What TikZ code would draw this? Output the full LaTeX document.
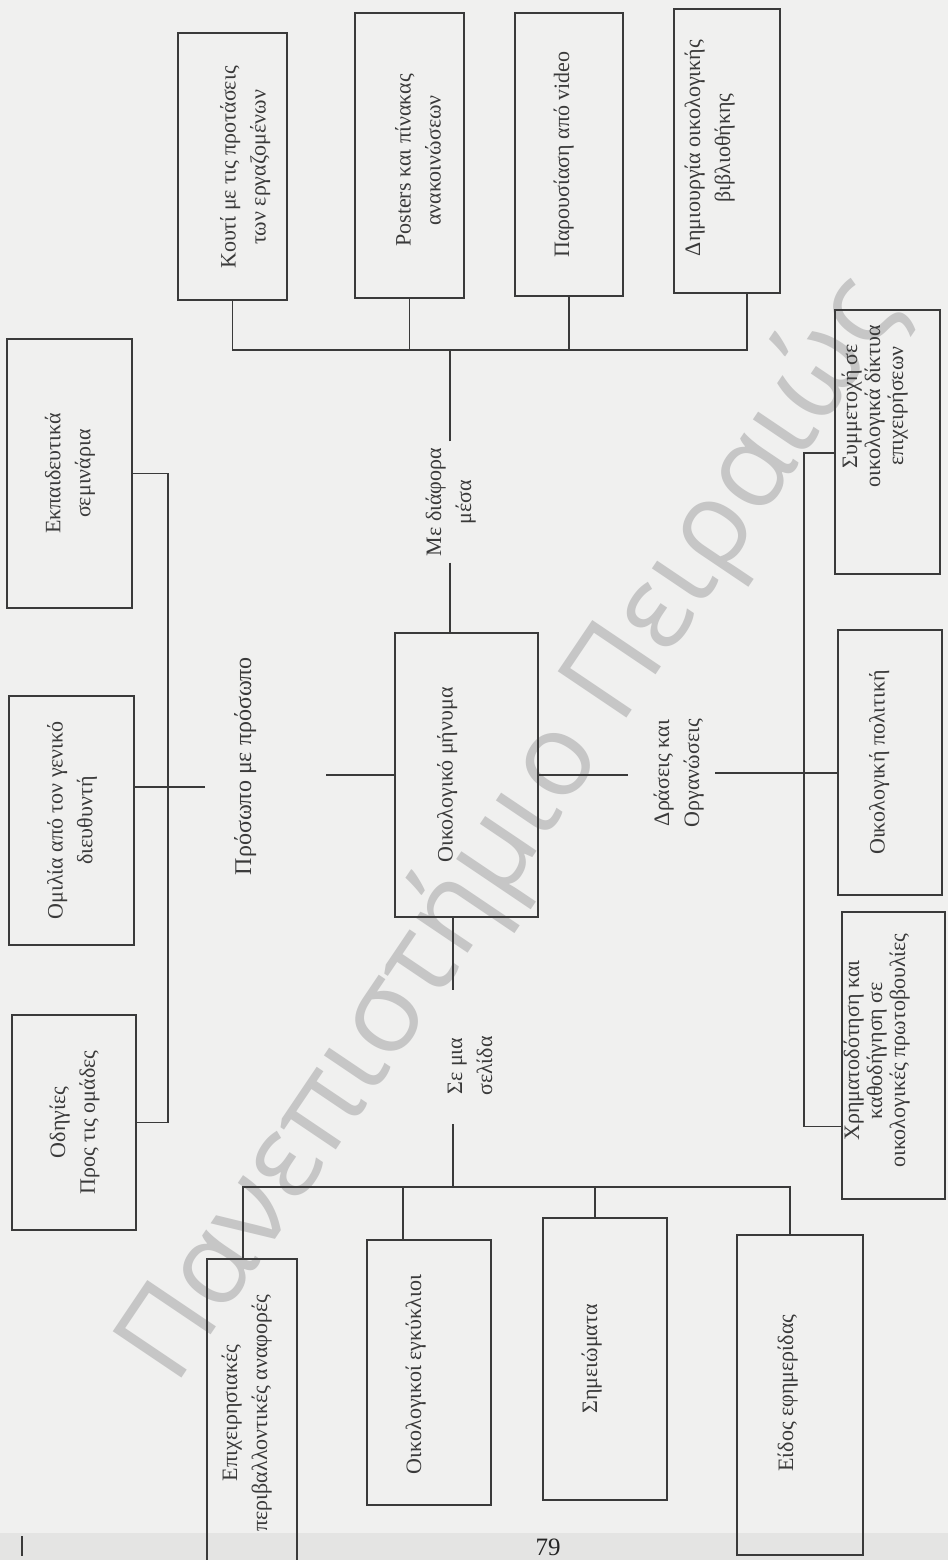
\documentclass[tikz,border=0pt]{standalone}
\usepackage{fontspec}
\setmainfont{Liberation Serif}
\newfontfamily\wmfont{Open Sans}
\usetikzlibrary{fit,calc}
\definecolor{paper}{HTML}{F0F0EF}
\definecolor{ink}{HTML}{3A3A3A}
\definecolor{wmgray}{HTML}{C6C6C6}
\definecolor{band}{HTML}{E4E4E3}
% vertical multi-line text, reading bottom to top
\newcommand{\vlines}[1]{\rotatebox{90}{\begin{tabular}{@{}c@{}}#1\end{tabular}}}
\begin{document}
\begin{tikzpicture}[x=0.5pt,y=-0.5pt,
  box/.style={draw=ink,line width=0.9pt,inner sep=0pt},
  btxt/.style={text=ink,inner sep=0pt,font=\fontsize{11}{15}\selectfont},
  ntxt/.style={text=ink,inner sep=0pt,font=\fontsize{11}{11.5}\selectfont},
  lbl/.style={text=ink,inner sep=3pt,font=\fontsize{11}{15}\selectfont},
  conn/.style={draw=ink,line width=0.8pt},
  wmk/.style={text=wmgray,inner sep=0pt,rotate=56,font=\wmfont\fontsize{58}{58}\selectfont}]

% page
\fill[paper] (0,0) rectangle (948,1560);
\useasboundingbox (0,0) rectangle (948,1560);
\fill[band] (0,1533) rectangle (948,1560);
\draw[ink,line width=0.8pt] (22,1536) -- (22,1556);

% watermark
\node[wmk] (wm) at (512,830) {Πανεπιστήμιο Πειραιώς};

% central node
\node[box,fit={(395,633)(538,917)}] (msg) {};
\node[btxt] (msg-t) at ($(msg.center)+(-20,0)$) {\vlines{Οικολογικό μήνυμα}};

% branch labels
\node[lbl] (lblT) at (450,502) {\vlines{Με διάφορα\\μέσα}};
\node[lbl,font=\fontsize{12}{15}\selectfont] (lblL) at (245,766) {\vlines{Πρόσωπο με πρόσωπο}};
\node[lbl] (lblR) at (678,773) {\vlines{Δράσεις και\\Οργανώσεις}};
\node[lbl] (lblB) at (471,1066) {\vlines{Σε μια\\σελίδα}};

% top row
\node[box,fit={(178,33)(287,300)}] (kouti) {};
\node[btxt] (kouti-t) at ($(kouti.center)+(12,1)$) {\vlines{Κουτί με τις προτάσεις\\των εργαζομένων}};
\node[box,fit={(355,13)(464,298)}] (post) {};
\node[btxt] (post-t) at ($(post.center)+(10,5)$) {\vlines{Posters και πίνακας\\ανακοινώσεων}};
\node[box,fit={(515,13)(623,296)}] (par) {};
\node[btxt] (par-t) at ($(par.center)+(-6,0)$) {\vlines{Παρουσίαση από video}};
\node[box,fit={(674,9)(780,293)}] (dem) {};
\node[btxt] (dem-t) at ($(dem.center)+(-18,-3)$) {\vlines{Δημιουργία οικολογικής\\βιβλιοθήκης}};

% left column
\node[box,fit={(7,339)(132,608)}] (ekp) {};
\node[btxt] (ekp-t) at (ekp.center) {\vlines{Εκπαιδευτικά\\σεμινάρια}};
\node[box,fit={(9,696)(134,945)}] (omi) {};
\node[btxt] (omi-t) at (omi.center) {\vlines{Ομιλία από τον γενικό\\διευθυντή}};
\node[box,fit={(12,1015)(136,1230)}] (odi) {};
\node[btxt] (odi-t) at (odi.center) {\vlines{Οδηγίες\\Προς τις ομάδες}};

% right column
\node[box,fit={(835,310)(940,574)}] (sym) {};
\node[ntxt] (sym-t) at ($(sym.center)+(-12,-36)$) {\vlines{Συμμετοχή σε\\οικολογικά δίκτυα\\επιχειρήσεων}};
\node[box,fit={(838,630)(942,895)}] (pol) {};
\node[ntxt] (pol-t) at ($(pol.center)+(-10,0)$) {\vlines{Οικολογική πολιτική}};
\node[box,fit={(842,912)(945,1199)}] (chr) {};
\node[ntxt] (chr-t) at ($(chr.center)+(-16,-5)$) {\vlines{Χρηματοδότηση και\\καθοδήγηση σε\\οικολογικές πρωτοβουλίες}};

% bottom row
\node[box,fit={(207,1259)(297,1580)}] (epi) {};
\node[btxt] (epi-t) at (246,1413) {\vlines{Επιχειρησιακές\\περιβαλλοντικές αναφορές}};
\node[box,fit={(367,1240)(491,1505)}] (oik) {};
\node[btxt] (oik-t) at ($(oik.center)+(-14,2)$) {\vlines{Οικολογικοί εγκύκλιοι}};
\node[box,fit={(543,1218)(667,1500)}] (sim) {};
\node[btxt] (sim-t) at ($(sim.center)+(-14,0)$) {\vlines{Σημειώματα}};
\node[box,fit={(737,1235)(863,1555)}] (eid) {};
\node[btxt] (eid-t) at ($(eid.center)+(-13,-2)$) {\vlines{Είδος εφημερίδας}};

% page number
\node[text=black!85,inner sep=0pt,font=\fontsize{12.5}{13}\selectfont] (pnum) at (548,1547) {79};

% --- connectors ---
% upper branch
\coordinate (busT) at (450,350);
\coordinate (demdrop) at ($(dem.south)+(20,0)$);
\draw[conn] (lblT.south) -- (lblT.south |- msg.north);
\draw[conn] (lblT.north) -- (lblT.north |- busT);
\draw[conn] (kouti.south) |- (demdrop |- busT) -- (demdrop);
\draw[conn] (post.south) -- (post.south |- busT);
\draw[conn] (par.south) -- (par.south |- busT);

% left branch
\coordinate (pL) at (205,787);
\coordinate (busL) at (168,800);
\draw[conn] (msg.west) -- ++(-68,0);
\draw[conn] (pL) -- (pL -| omi.east);
\draw[conn] (ekp.east) -| (busL |- odi.east) -- (odi.east);

% right branch
\coordinate (pR) at (715,773);
\coordinate (busR) at (804,800);
\coordinate (symC) at ($(sym.west)+(0,11)$);
\coordinate (chrC) at ($(chr.west)+(0,71)$);
\draw[conn] (msg.east) -- ++(89,0);
\draw[conn] (pR) -- (pR -| pol.west);
\draw[conn] (symC) -| (busR |- chrC) -- (chrC);

% lower branch
\coordinate (stemB) at (453,1187);
\coordinate (b1) at ($(epi.north)+(-9,0)$);
\coordinate (b2) at ($(oik.north)+(-26,0)$);
\coordinate (b3) at ($(sim.north)+(-10,0)$);
\coordinate (b4) at ($(eid.north)+(-10,0)$);
\draw[conn] (msg.south -| stemB) -- ++(0,72);
\draw[conn] (stemB) -- ++(0,-63);
\draw[conn] (b1) |- (b4 |- stemB) -- (b4);
\draw[conn] (b2) -- (b2 |- stemB);
\draw[conn] (b3) -- (b3 |- stemB);
\end{tikzpicture}
\end{document}
